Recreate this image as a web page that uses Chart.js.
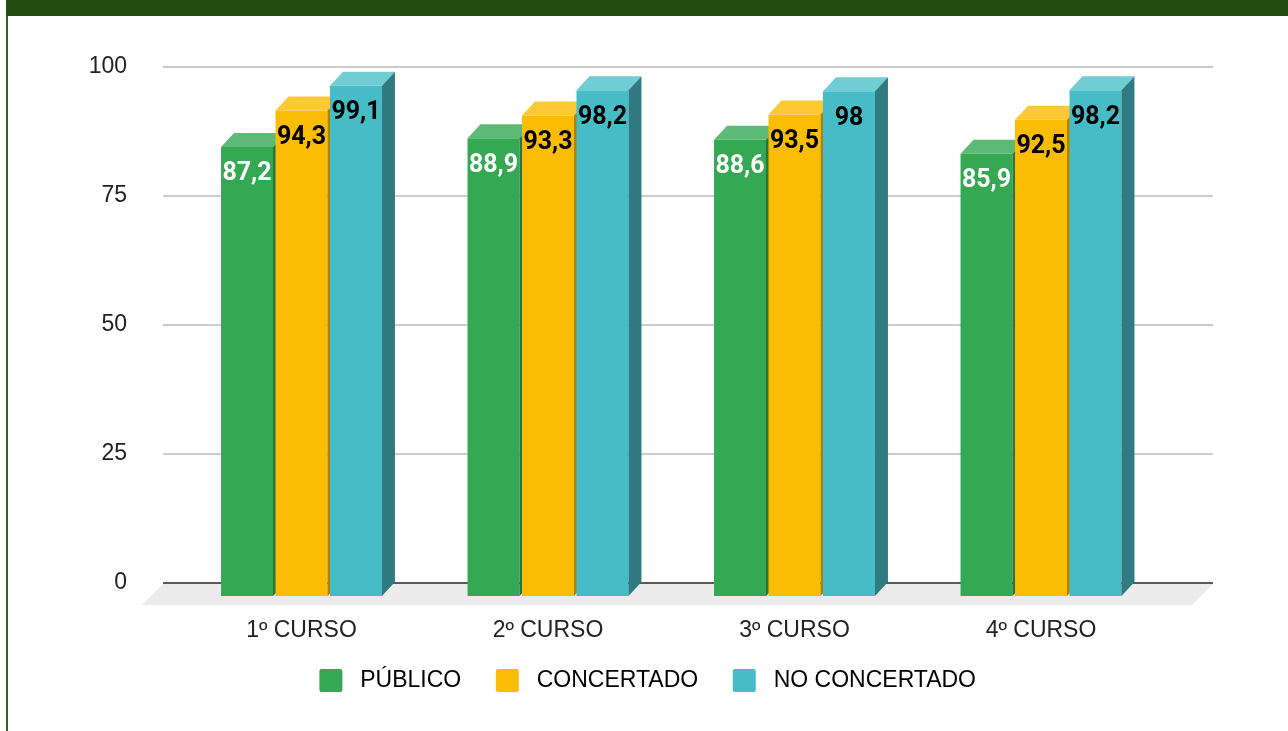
<!DOCTYPE html>
<html>
<head>
<meta charset="utf-8">
<script src="https://cdn.jsdelivr.net/npm/chart.js@4.4.1/dist/chart.umd.min.js"></script>
<style>
  body { margin: 0; background: #fff; }
  #marco { position: absolute; left: 6px; top: 0; width: 1282px; height: 731px; border-left: 2px solid #35631f; box-sizing: border-box; }
  #franja { position: absolute; left: 6px; top: 0; width: 1282px; height: 16px; background: #234b12; }
  #grafico { position: absolute; left: 0; top: 0; }
</style>
</head>
<body>
<div id="marco"></div>
<div id="franja"></div>
<canvas id="grafico" width="1288" height="731"></canvas>
<script>
const cursos = ['1º CURSO', '2º CURSO', '3º CURSO', '4º CURSO'];
const publico = [87.2, 88.9, 88.6, 85.9];
const concertado = [94.3, 93.3, 93.5, 92.5];
const noConcertado = [99.1, 98.2, 98, 98.2];
const ticksY = [0, 25, 50, 75, 100];

// desplazamiento de la cara frontal respecto al plano del fondo (efecto 3D)
const FONDO_X = 13;
const FONDO_Y = 14;

function poligono(ctx, puntos, color) {
    ctx.fillStyle = color;
    ctx.beginPath();
    ctx.moveTo(puntos[0][0], puntos[0][1]);
    for (let i = 1; i < puntos.length; i++) ctx.lineTo(puntos[i][0], puntos[i][1]);
    ctx.closePath();
    ctx.fill();
}

const barras3d = {
    id: 'barras3d',
    beforeDatasetsDraw(chart) {
        const ctx = chart.ctx;
        const area = chart.chartArea;
        const y0 = chart.scales.y.getPixelForValue(0);
        ctx.save();
        // suelo gris
        poligono(ctx, [
            [area.left, y0 + 1], [area.right, y0 + 1],
            [area.right - 21, y0 + 22], [area.left - 21, y0 + 22]
        ], '#ececec');

        // serie a serie: la barra de la derecha tapa el lateral de la de la izquierda
        chart.data.datasets.forEach((ds, i) => {
            chart.getDatasetMeta(i).data.forEach(bar => {
                const w = bar.width;
                const x1 = bar.x - w / 2 - FONDO_X;
                const x2 = bar.x + w / 2 - FONDO_X;
                const yt = bar.y + FONDO_Y;
                const yb = bar.base + FONDO_Y;
                poligono(ctx, [[x1, yt], [x2, yt], [x2, yb], [x1, yb]], ds.backgroundColor);
                poligono(ctx, [[x1, yt], [x1 + FONDO_X, yt - FONDO_Y], [x2 + FONDO_X, yt - FONDO_Y], [x2, yt]], ds.colorTapa);
                poligono(ctx, [[x2, yt], [x2 + FONDO_X, yt - FONDO_Y], [x2 + FONDO_X, yb - FONDO_Y], [x2, yb]], ds.colorLado);
            });
        });
        ctx.restore();
    },
    beforeDatasetDraw() {
        return false;
    },
    afterDatasetsDraw(chart) {
        const ctx = chart.ctx;
        ctx.save();
        ctx.font = 'bold 25px Roboto';
        ctx.textAlign = 'center';
        ctx.textBaseline = 'middle';
        chart.data.datasets.forEach((ds, i) => {
            chart.getDatasetMeta(i).data.forEach((bar, j) => {
                const texto = String(ds.data[j].y).replace('.', ',');
                ctx.fillStyle = ds.colorEtiqueta;
                ctx.fillText(texto, bar.x - FONDO_X, bar.y + FONDO_Y + 27);
            });
        });
        ctx.restore();
    }
};

function puntos(valores) {
    return valores.map((v, i) => ({ x: i, y: v }));
}

Chart.defaults.font.family = "'Liberation Sans', Arial, sans-serif";
Chart.defaults.color = '#222222';

const ctx = document.getElementById('grafico');

var grafico = new Chart(ctx, {
    type: 'bar',
    data: {
        datasets: [{
            label: 'PÚBLICO',
            data: puntos(publico),
            backgroundColor: '#34a853',
            colorTapa: '#5dba76',
            colorLado: '#23773a',
            colorEtiqueta: '#ffffff'
        }, {
            label: 'CONCERTADO',
            data: puntos(concertado),
            backgroundColor: '#fbbc04',
            colorTapa: '#fcc934',
            colorLado: '#ae8300',
            colorEtiqueta: '#000000'
        }, {
            label: 'NO CONCERTADO',
            data: puntos(noConcertado),
            backgroundColor: '#46bdc6',
            colorTapa: '#6fcdd3',
            colorLado: '#2f7b81',
            colorEtiqueta: '#000000'
        }]
    },
    options: {
        responsive: false,
        animation: false,
        devicePixelRatio: 1,
        categoryPercentage: 0.663,
        barPercentage: 0.954,
        layout: {
            padding: { left: 87, right: 75, top: 67, bottom: 29 }
        },
        plugins: {
            tooltip: { enabled: false },
            legend: {
                position: 'bottom',
                labels: {
                    boxWidth: 23,
                    boxHeight: 23,
                    padding: 30,
                    color: '#222222',
                    font: { size: 23 },
                    useBorderRadius: true,
                    borderRadius: 2,
                    generateLabels: chart => chart.data.datasets.map((ds, i) => ({
                        text: ' ' + ds.label + '\u2009',
                        fillStyle: ds.backgroundColor,
                        strokeStyle: ds.backgroundColor,
                        lineWidth: 0,
                        borderRadius: 2,
                        hidden: false,
                        datasetIndex: i
                    }))
                }
            }
        },
        scales: {
            x: {
                type: 'linear',
                offset: false,
                min: -0.6146,
                max: 3.645,
                afterBuildTicks: s => { s.ticks = cursos.map((c, i) => ({ value: i })); },
                afterFit: s => { s.height = 56; },
                grid: { display: false, drawTicks: false, offset: false },
                border: { display: false },
                ticks: {
                    padding: 34,
                    labelOffset: -FONDO_X,
                    maxRotation: 0,
                    autoSkip: false,
                    font: { size: 23 },
                    callback: v => cursos[v]
                }
            },
            y: {
                min: 0,
                max: 100,
                afterBuildTicks: s => { s.ticks = ticksY.map(v => ({ value: v })); },
                afterFit: s => { s.width = 76; },
                border: { display: false },
                grid: {
                    drawTicks: false,
                    lineWidth: 2,
                    color: c => c.tick.value === 0 ? '#595959' : '#cccccc'
                },
                ticks: {
                    padding: 36,
                    font: { size: 23 }
                }
            }
        }
    },
    plugins: [barras3d]
});
</script>
</body>
</html>
